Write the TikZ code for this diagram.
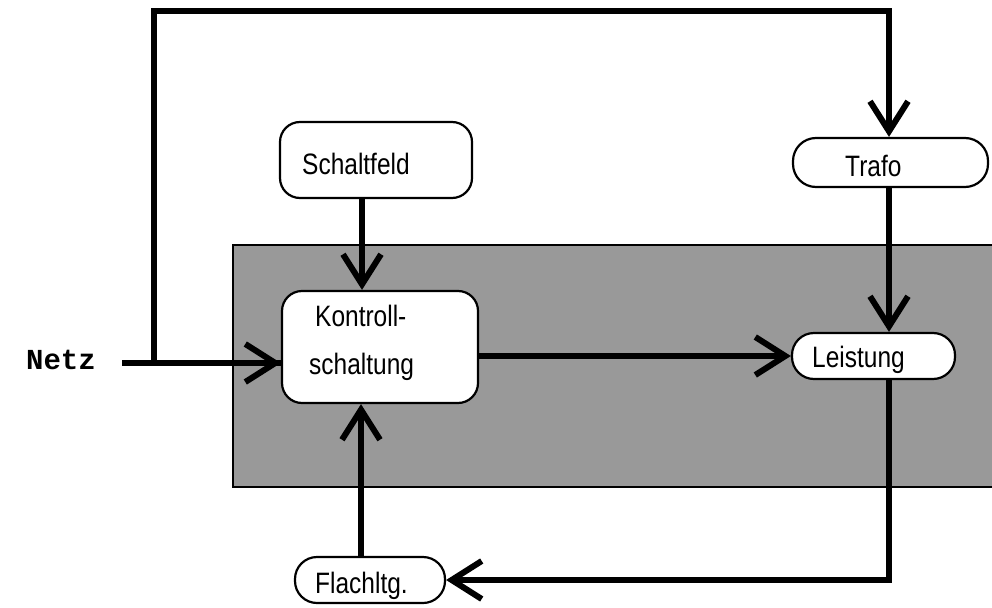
\documentclass[tikz,border=0pt]{standalone}
\usepackage{fontspec}
\setmainfont{Liberation Sans}
\newfontfamily\narrowfont[FakeStretch=0.83]{Liberation Sans}
\newfontfamily\monofont{Liberation Mono}
\usetikzlibrary{arrows.meta}
\definecolor{panelgray}{HTML}{999999}
\tikzset{
  box/.style={draw=black, line width=2.2pt, fill=white, inner sep=0pt},
  txt/.style={inner sep=0pt, anchor=base west, font=\narrowfont\fontsize{29.5}{34}\selectfont},
  wire/.style={line width=6pt},
  arr/.style={wire, -{Straight Barb[length=30pt,width=38pt]}},
}
\begin{document}
\begin{tikzpicture}[x=1pt,y=-1pt]
\useasboundingbox (0,0) rectangle (992,607);
\clip (0,0) rectangle (992,607);
\fill[white] (0,0) rectangle (992,607);
% gray panel
\draw[fill=panelgray, line width=2.2pt] (233,245) rectangle (1000,487);
% boxes
\node[box, minimum width=192pt, minimum height=76pt, rounded corners=20pt] (schaltfeld) at (376,160) {};
\node[box, minimum width=196pt, minimum height=112pt, rounded corners=20pt] (kontroll) at (380,347) {};
\node[box, minimum width=195pt, minimum height=49pt, rounded corners=23pt] (trafo) at (890.5,162.5) {};
\node[box, minimum width=163pt, minimum height=46pt, rounded corners=22pt] (leistung) at (873.5,356) {};
\node[box, minimum width=150pt, minimum height=46pt, rounded corners=22pt] (flach) at (370,580) {};
% texts
\node[txt] at (302,174) {Schaltfeld};
\node[txt] at (315,326) {Kontroll-};
\node[txt] at (309,374) {schaltung};
\node[txt] at (845,176) {Trafo};
\node[txt] at (812,367) {Leistung};
\node[txt] at (315,593) {Flachltg.};
\node[inner sep=0pt, anchor=base east, font=\monofont\bfseries\fontsize{29}{32}\selectfont] (netz) at (96,369) {Netz};
% helper coordinates
\coordinate (netzline) at (122,363);
\coordinate (junction) at (154,363);
\coordinate (topleft) at (154,11);
\coordinate (rx) at (889,0);
\coordinate (sx) at (362,0);
\coordinate (fx) at (361,0);
% connectors
\draw[wire] (netzline) -- (kontroll.west |- netzline);
\draw[arr] (junction) -- (kontroll.west |- netzline);
\draw[arr, line join=miter] (junction) -- (topleft) -- (rx |- topleft) -- (trafo.north -| rx);
\draw[arr] (schaltfeld.south -| sx) -- (kontroll.north -| sx);
\draw[arr] (trafo.south -| rx) -- (leistung.north -| rx);
\draw[arr] (kontroll.east |- leistung.west) -- (leistung.west);
\draw[arr, line join=miter] (leistung.south -| rx) -- (rx |- flach.east) -- (flach.east);
\draw[arr] (flach.north -| fx) -- (kontroll.south -| fx);
\end{tikzpicture}
\end{document}
